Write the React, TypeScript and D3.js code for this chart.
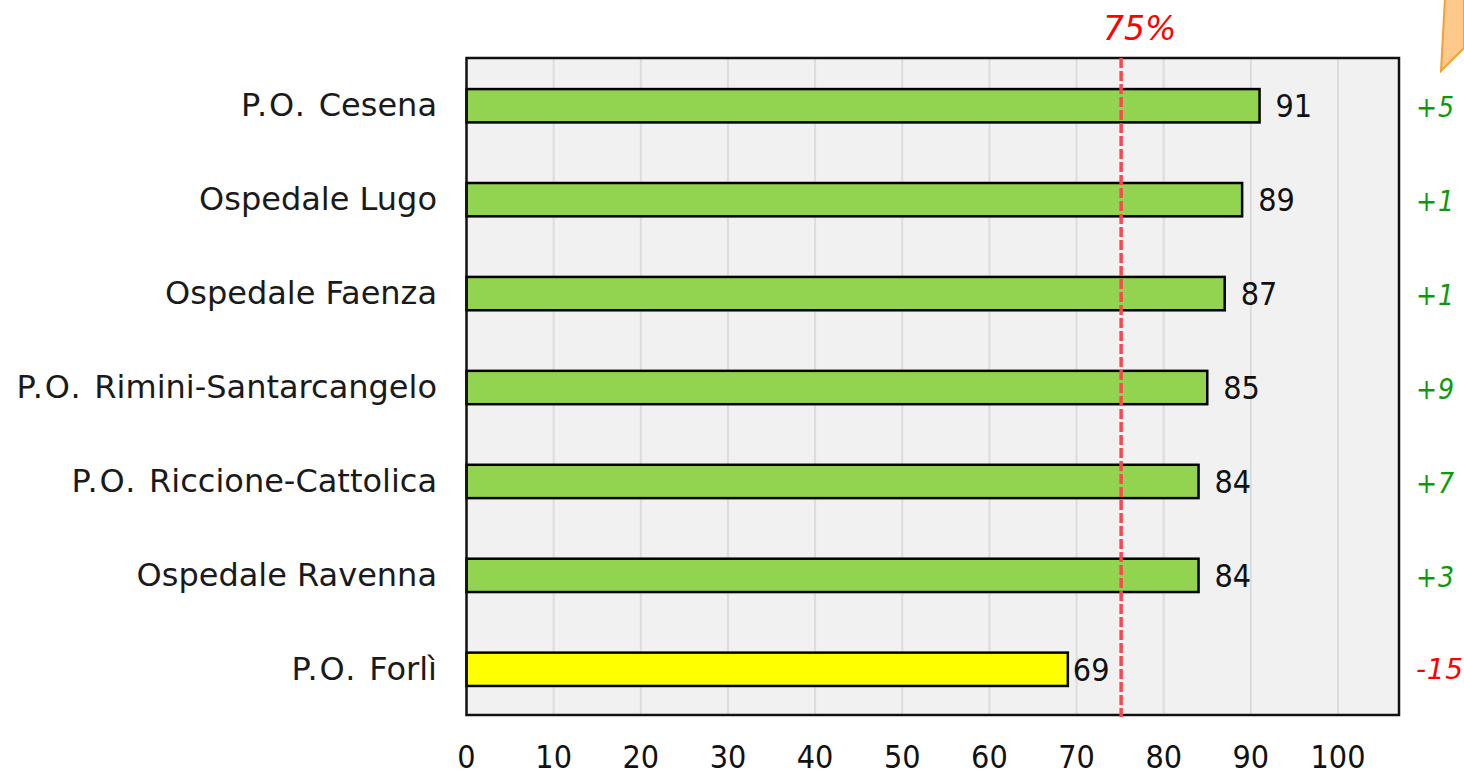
import React from 'react';
import * as d3 from 'd3';

const categories = ['P.O. Cesena', 'Ospedale Lugo', 'Ospedale Faenza', 'P.O. Rimini-Santarcangelo', 'P.O. Riccione-Cattolica', 'Ospedale Ravenna', 'P.O. Forlì'];
const values = [91, 89, 87, 85, 84, 84, 69];
const deltas = ['+5', '+1', '+1', '+9', '+7', '+3', '-15'];
const barColors = ['#92d350', '#92d350', '#92d350', '#92d350', '#92d350', '#92d350', '#ffff00'];
const xTicks = [0, 10, 20, 30, 40, 50, 60, 70, 80, 90, 100];
const threshold = 75;

const width = 1464;
const height = 771;
const margin = { top: 58, right: 65, bottom: 56, left: 466.5 };
const font = '"DejaVu Sans", Verdana, sans-serif';
const prefix = 'P.O. ';

export default function App() {
  const x = d3.scaleLinear().domain([0, 107]).range([margin.left, width - margin.right]);
  const y = d3.scaleBand().domain(categories).range([margin.top, height - margin.bottom]).paddingInner(0.645).paddingOuter(0.32).align(0.517);
  const plotW = width - margin.right - margin.left;
  const plotH = height - margin.bottom - margin.top;

  return (
    <svg width={width} height={height} style={{ position: 'absolute', left: 0, top: 0, fontFamily: font }}>
      <rect x={margin.left} y={margin.top} width={plotW} height={plotH} fill="#f1f1f1" />
      {xTicks.slice(1).map(t => (
        <line key={t} x1={x(t)} x2={x(t)} y1={margin.top} y2={height - margin.bottom} stroke="#dcdcdc" strokeWidth={2} />
      ))}
      {categories.map((c, i) => {
        const by = y(c)!;
        const cy = by + y.bandwidth() / 2;
        const neg = deltas[i].startsWith('-');
        const hasPrefix = c.startsWith(prefix);
        return (
          <g key={c}>
            <rect x={x(0)} y={by} width={x(values[i]) - x(0)} height={y.bandwidth()} fill={barColors[i]} stroke="#000" strokeWidth={2.5} />
            <text x={437} y={cy + 10.5} textAnchor="end" fontSize={32} fill="#1a1a1a" xmlSpace="preserve">
              {hasPrefix ? <tspan letterSpacing={1.8}>{prefix}</tspan> : null}
              {hasPrefix ? c.slice(prefix.length) : c}
            </text>
            <text x={x(values[i]) + (values[i] < threshold ? 5 : 16)} y={cy + 11.5} fontSize={32} style={{ fontStretch: 'condensed' }} fill="#111">{values[i]}</text>
            <text x={1416} y={cy + (neg ? 10 : 11.5)} fontSize={28} fontStyle="italic" letterSpacing={neg ? 0.7 : 1} style={{ fontStretch: neg ? 'normal' : 'condensed' }} fill={neg ? '#ff0000' : '#0a9a0a'}>{deltas[i]}</text>
          </g>
        );
      })}
      <rect x={margin.left} y={margin.top} width={plotW} height={plotH} fill="none" stroke="#111" strokeWidth={2.5} />
      <line x1={x(threshold) + 1} x2={x(threshold) + 1} y1={margin.top} y2={height - margin.bottom + 2} stroke="#ff4650" strokeWidth={3.5} strokeDasharray="10 3" />
      <text x={1103} y={40} fontSize={33} fontStyle="italic" fill="#ff0000">75%</text>
      {xTicks.map(t => (
        <text key={t} x={x(t)} y={768} textAnchor="middle" fontSize={32} style={{ fontStretch: 'condensed' }} fill="#111">{t}</text>
      ))}
      <path d="M1445,-2 L1464,-2 L1464,48 L1441,71 Z" fill="#fdc98c" stroke="#f5a030" strokeWidth={2} />
    </svg>
  );
}
